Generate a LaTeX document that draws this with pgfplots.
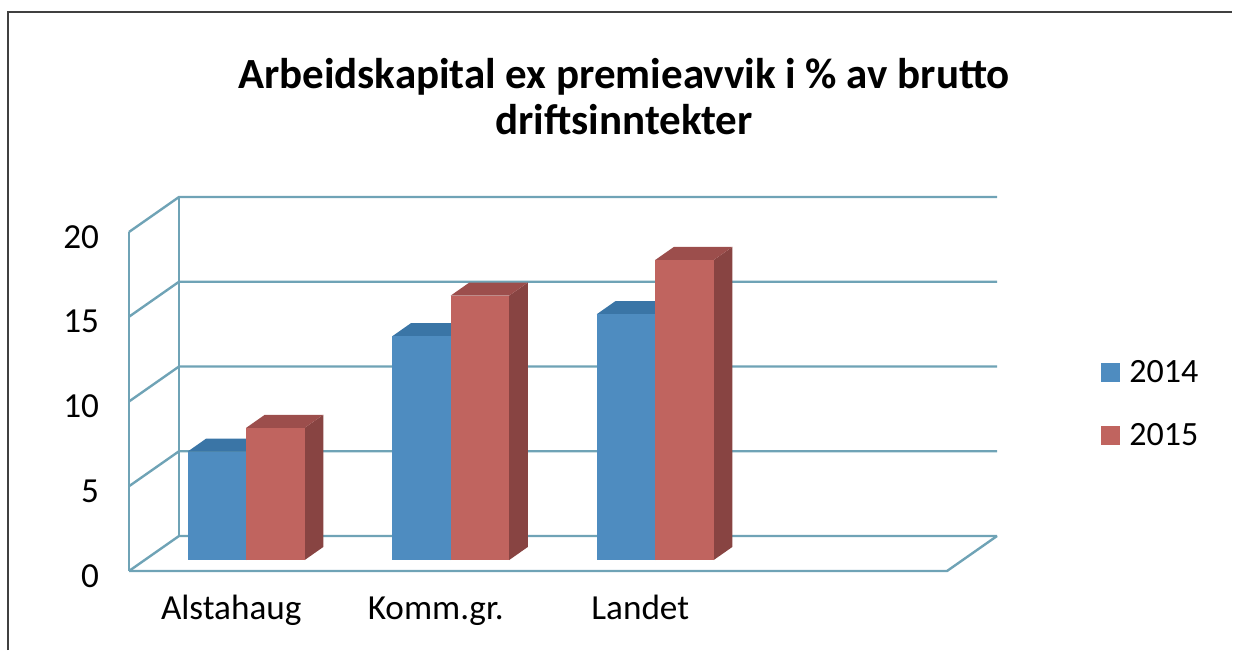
\documentclass[border=0pt]{standalone}
\usepackage{fontspec}
\setmainfont{Carlito}
\usepackage{pgfplots}
\pgfplotsset{compat=1.18}
\definecolor{bfront}{HTML}{4E8CC0}
\definecolor{btop}{HTML}{3A75A6}
\definecolor{bside}{HTML}{2F6290}
\definecolor{rfront}{HTML}{C0645F}
\definecolor{rtop}{HTML}{9C4E4C}
\definecolor{rside}{HTML}{884442}
\definecolor{gridc}{HTML}{6FA3B6}
\definecolor{framec}{HTML}{404040}

% #1 left x (front plane), #2 value, #3 front colour, #4 top colour, #5 side colour
\newcommand{\cuboid}[5]{%
  \pgfmathsetmacro\xA{#1+0.0768}%
  \pgfmathsetmacro\xB{#1+0.286+0.0768}%
  \pgfmathsetmacro\xC{#1+0.286+0.1677}%
  \pgfmathsetmacro\xD{#1+0.1677}%
  \pgfmathsetmacro\yA{0.648}%
  \pgfmathsetmacro\yB{1.417}%
  \pgfmathsetmacro\yT{#2+0.648}%
  \pgfmathsetmacro\yU{#2+1.417}%
  \edef\temp{%
    \noexpand\addplot[fill=#5, draw=none, mark=none, forget plot] coordinates {(\xB,\yA) (\xC,\yB) (\xC,\yU) (\xB,\yT)};
    \noexpand\addplot[fill=#4, draw=none, mark=none, forget plot] coordinates {(\xA,\yT) (\xB,\yT) (\xC,\yU) (\xD,\yU)};
    \noexpand\addplot[fill=#3, draw=none, mark=none, forget plot] coordinates {(\xA,\yA) (\xB,\yA) (\xB,\yT) (\xA,\yT)};
  }\temp
}

\begin{document}
\begin{tikzpicture}
\useasboundingbox (0pt,0pt) rectangle (617.5pt,325pt);
\draw[line width=1pt, framec] (4pt,0pt) -- (4pt,319pt) -- (616pt,319pt);

\node[align=center, font=\fontsize{21.5}{23}\selectfont\bfseries] at (312pt,276.5pt)
  {Arbeidskapital ex premieavvik i \% av brutto\\driftsinntekter};

\begin{axis}[
  at={(64.5pt,39.5pt)}, anchor=south west,
  x=102.25pt, y=8.475pt,
  xmin=0, xmax=4.2445, ymin=0, ymax=22.065,
  clip=false,
  axis line style={draw=none},
  major tick length=0pt,
  ytick={0,5,10,15,20},
  xtick={0.5,1.5,2.5},
  xticklabels={Alstahaug,Komm.gr.,Landet},
  tick label style={font=\fontsize{17.6}{20}\selectfont},
  /pgf/number format/assume math mode=true,
  yticklabel style={xshift=-11.5pt, yshift=-2.5pt},
  xticklabel style={text height=12.5pt, text depth=4pt, yshift=-8pt},
  legend image code/.code={\fill[#1, draw=none] (0pt,-4.75pt) rectangle (9.5pt,4.75pt);},
  legend style={at={(axis cs:4.753,9.85)}, anchor=west, draw=none, fill=none,
    inner sep=0pt, row sep=15pt, font=\fontsize{17}{20}\selectfont,
    /tikz/every odd column/.append style={column sep=2.5pt}},
  legend cell align=left,
]
% walls and gridlines
\addplot[gridc, line width=1.2pt, mark=none, forget plot] coordinates {(0,0) (4,0) (4.2445,2.065)};
\addplot[gridc, line width=1.2pt, mark=none, forget plot] coordinates {(0,0) (0,20)};
\addplot[gridc, line width=1.2pt, mark=none, forget plot] coordinates {(0.2445,2.065) (0.2445,22.065)};
\addplot[gridc, line width=1.2pt, mark=none, forget plot] coordinates {(0,0) (0.2445,2.065) (4.2445,2.065)};
\addplot[gridc, line width=1.2pt, mark=none, forget plot] coordinates {(0,5) (0.2445,7.065) (4.2445,7.065)};
\addplot[gridc, line width=1.2pt, mark=none, forget plot] coordinates {(0,10) (0.2445,12.065) (4.2445,12.065)};
\addplot[gridc, line width=1.2pt, mark=none, forget plot] coordinates {(0,15) (0.2445,17.065) (4.2445,17.065)};
\addplot[gridc, line width=1.2pt, mark=none, forget plot] coordinates {(0,20) (0.2445,22.065) (4.2445,22.065)};

% bars: Alstahaug, Komm.gr., Landet
\cuboid{0.2103}{6.4}{bfront}{btop}{bside}
\cuboid{0.4963}{7.8}{rfront}{rtop}{rside}
\cuboid{1.2103}{13.2}{bfront}{btop}{bside}
\cuboid{1.4963}{15.6}{rfront}{rtop}{rside}
\cuboid{2.2103}{14.5}{bfront}{btop}{bside}
\cuboid{2.4963}{17.7}{rfront}{rtop}{rside}

\addlegendimage{fill=bfront}
\addlegendentry{2014}
\addlegendimage{fill=rfront}
\addlegendentry{2015}
\end{axis}
\end{tikzpicture}
\end{document}
